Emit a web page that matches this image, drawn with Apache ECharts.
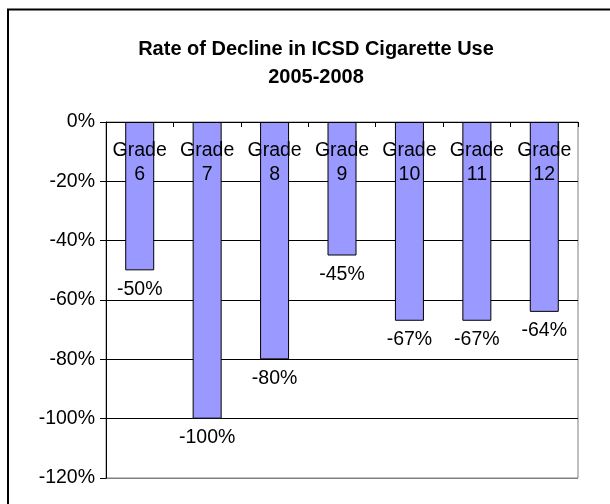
<!DOCTYPE html>
<html>
<head>
<meta charset="utf-8">
<style>
  html, body { margin: 0; padding: 0; background: #fff; }
  #chart { width: 610px; height: 504px; }
</style>
<script src="https://cdn.jsdelivr.net/npm/echarts@6/dist/echarts.min.js"></script>
</head>
<body>
<div id="chart"></div>
<script>
// Grade levels and percentage change in cigarette use, 2005 to 2008
const grades = ['Grade\n6', 'Grade\n7', 'Grade\n8', 'Grade\n9', 'Grade\n10', 'Grade\n11', 'Grade\n12'];
const declinePct = [-50, -100, -80, -45, -67, -67, -64];
const yTicks = { min: -120, max: 0, step: 20 };
const titleLines = ['Rate of Decline in ICSD Cigarette Use', '2005-2008'];

const FONT = '"Liberation Sans", Arial, sans-serif';

const chart = echarts.init(document.getElementById('chart'), null, { renderer: 'canvas' });

// bottom gridline doubles as the grey plot frame; the others are black
const splitColors = [];
for (let v = yTicks.min; v <= yTicks.max; v += yTicks.step) {
  splitColors.push(v === yTicks.min ? '#808080' : '#000000');
}

chart.setOption({
  backgroundColor: '#ffffff',
  animation: false,
  title: {
    text: titleLines.join('\n'),
    left: 311,
    top: 30,
    textAlign: 'center',
    textStyle: {
      fontFamily: FONT,
      fontWeight: 'bold',
      fontSize: 20,
      lineHeight: 28,
      color: '#000'
    }
  },
  graphic: [
    {
      // outer chart frame
      type: 'rect',
      shape: { x: 8, y: 9.5, width: 620, height: 520 },
      style: { fill: 'none', stroke: '#000', lineWidth: 2 },
      silent: true,
      z: 100
    }
  ],
  grid: {
    left: 106,
    right: 32,
    top: 122,
    bottom: 26,
    show: true,
    borderColor: '#808080',
    borderWidth: 1,
    backgroundColor: 'transparent'
  },
  xAxis: {
    // the zero line sits at the top, so the category axis lives there,
    // with its labels hanging down into the plot
    type: 'category',
    data: grades,
    position: 'top',
    z: 10,
    axisLine: { show: true, onZero: false, lineStyle: { color: '#000', width: 1 } },
    axisTick: { show: true, inside: true, length: 5, lineStyle: { color: '#000' } },
    axisLabel: {
      inside: true,
      fontFamily: FONT,
      fontSize: 19.5,
      lineHeight: 24,
      color: '#000',
      margin: 17,
      interval: 0
    },
    splitLine: { show: false }
  },
  yAxis: {
    type: 'value',
    min: yTicks.min,
    max: yTicks.max,
    interval: yTicks.step,
    axisLine: { show: true, lineStyle: { color: '#000', width: 1 } },
    axisTick: { show: true, length: 6, lineStyle: { color: '#000' } },
    axisLabel: {
      fontFamily: FONT,
      fontSize: 19.5,
      color: '#000',
      margin: 11,
      formatter: '{value}%'
    },
    splitLine: { show: true, lineStyle: { color: splitColors, width: 1 } }
  },
  series: [
    {
      type: 'bar',
      data: declinePct,
      barWidth: 29,
      itemStyle: { color: '#9999FF', borderColor: '#000', borderWidth: 1 },
      label: {
        show: true,
        position: 'bottom',
        distance: 9,
        formatter: '{c}%',
        fontFamily: FONT,
        fontSize: 19.5,
        color: '#000'
      }
    }
  ]
});
</script>
</body>
</html>
